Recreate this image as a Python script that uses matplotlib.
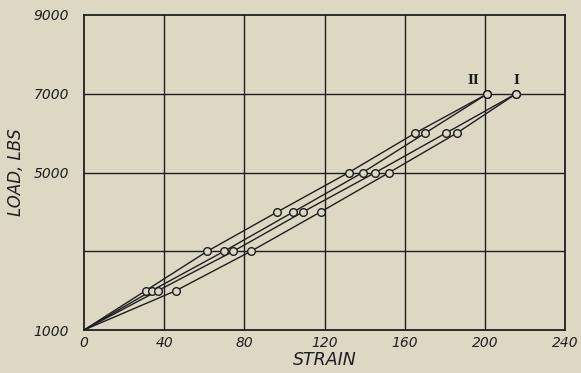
import matplotlib
matplotlib.use("Agg")
import matplotlib.pyplot as plt

# Data (strain vs load, lbs)
loads = [1000, 2000, 3000, 4000, 5000, 6000, 7000]
strain_a = [0, 30.8, 61.5, 96.5, 132.1, 165.2, 201.3]   # curve II branch
strain_b = [0, 33.8, 69.9, 104.5, 139.1, 170.2, 201.3]  # curve II branch
strain_c = [0, 36.9, 74.5, 109.3, 145.4, 180.5, 215.6]  # curve I branch
strain_d = [0, 45.9, 83.3, 118.1, 152.3, 186.0, 215.6]  # curve I branch
x_ticks = [0, 40, 80, 120, 160, 200, 240]
y_ticks = [1000, 5000, 7000, 9000]
y_tick_labels = ["1000", "5000", "7000", "9000"]
y_grid = [3000, 5000, 7000]
curve_labels = ["II", "I"]

bg = "#dcd8c4"
ink = "#1e1e1e"

fig = plt.figure(figsize=(5.81, 3.73), dpi=100, facecolor=bg)
ax = fig.add_axes([84/581, 1-330/373, (565-84)/581, (330-15)/373], facecolor=bg)

ax.set_xlim(0, 240)
ax.set_ylim(1000, 9000)

for gx in x_ticks[1:-1]:
    ax.axvline(gx, color=ink, lw=1.0, zorder=1)
for gy in y_grid:
    ax.axhline(gy, color=ink, lw=1.0, zorder=1)

for s in (strain_a, strain_b, strain_c, strain_d):
    ax.plot(s, loads, color=ink, lw=1.0, zorder=2)
    ax.plot(s[1:], loads[1:], ls="none", marker="o", ms=5.5, mfc=bg, mec=ink, mew=1.0, zorder=3)

ax.text(strain_a[-1] - 4, loads[-1] + 180, curve_labels[0], family="DejaVu Serif",
        fontsize=9, ha="right", va="bottom", color=ink, fontweight="bold")
ax.text(strain_c[-1], loads[-1] + 180, curve_labels[1], family="DejaVu Serif",
        fontsize=9, ha="center", va="bottom", color=ink, fontweight="bold")

for sp in ax.spines.values():
    sp.set_color(ink)
    sp.set_linewidth(1.3)

ax.set_xticks(x_ticks)
ax.set_xticklabels([str(t) for t in x_ticks], fontstyle="italic", fontsize=10, color=ink)
ax.set_yticks(y_ticks)
ax.set_yticklabels(y_tick_labels, fontstyle="italic", fontsize=10, color=ink)
ax.tick_params(axis="both", length=0)
ax.tick_params(axis="x", pad=4)
ax.tick_params(axis="y", pad=11)

ax.set_xlabel("STRAIN", fontstyle="italic", fontsize=12.5, color=ink, labelpad=1)
ax.set_ylabel("LOAD, LBS", fontstyle="italic", fontsize=12, color=ink, labelpad=6)

fig.savefig("out.png", dpi=100, facecolor=bg)
